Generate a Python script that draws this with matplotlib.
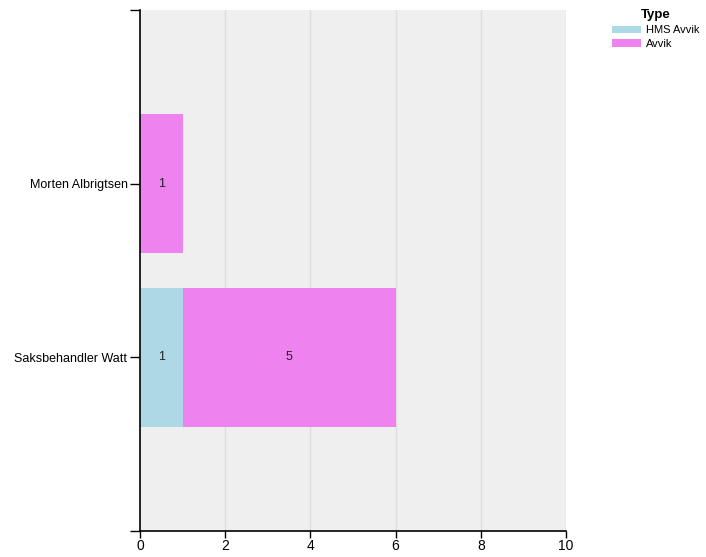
import numpy as np
import matplotlib.pyplot as plt
from matplotlib.patches import Patch

plt.rcParams['font.family'] = ['Liberation Sans', 'DejaVu Sans']

# data
people = ['Saksbehandler Watt', 'Morten Albrigtsen']
types = ['HMS Avvik', 'Avvik']
hms_avvik = [1, 0]
avvik = [5, 1]
colors = ['#add8e6', '#ee82ee']

fig = plt.figure(figsize=(7.06, 5.57), dpi=100)
W, H = 706, 557
ax = fig.add_axes([140 / W, 1 - 531 / H, (566 - 140) / W, (531 - 10) / H])
ax.set_facecolor('#efefef')

y = np.arange(len(people))
left = np.zeros(len(people))
for vals, col in zip([hms_avvik, avvik], colors):
    vals = np.array(vals, dtype=float)
    ax.barh(y, vals, left=left, height=0.8, color=col, zorder=2)
    for yi, l, v in zip(y, left, vals):
        if v > 0:
            ax.text(l + v / 2, yi, str(int(v)), ha='center', va='center',
                    fontsize=9, color='#222222', zorder=3)
    left = left + vals

ax.set_xlim(0, 10)
ax.set_ylim(-1, len(people))
ax.set_xticks(np.arange(0, 11, 2))
ax.set_yticks([-1] + list(y) + [len(people)])
ax.set_yticklabels([''] + people + [''])
ax.tick_params(axis='y', length=7, width=1, labelsize=9, color='black', pad=2)
ax.tick_params(axis='x', length=5, width=1, labelsize=10, color='black', pad=1)

for x in [2, 4, 6, 8, 10]:
    ax.axvline(x, color='#dedede', lw=1, zorder=1)

for s in ['top', 'right']:
    ax.spines[s].set_visible(False)
ax.spines['left'].set_linewidth(1.2)
ax.spines['bottom'].set_linewidth(1.2)

handles = [Patch(facecolor=c, edgecolor='none') for c in colors]
leg = fig.legend(handles, types, loc='upper left',
                 bbox_to_anchor=(608 / W, 1 - 5 / H), frameon=False,
                 fontsize=8, title='Type', handlelength=2.6, handleheight=0.7,
                 handletextpad=0.4, labelspacing=0.35, borderaxespad=0)
leg.get_title().set_fontweight('bold')
leg.get_title().set_fontsize(9.5)

fig.savefig('out.png', dpi=100)
